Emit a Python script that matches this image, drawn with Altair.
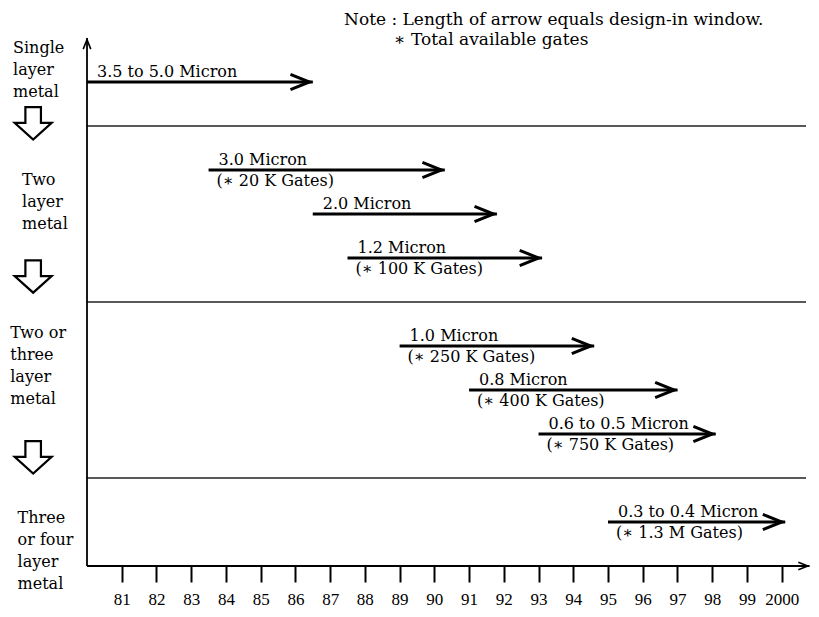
import json
import altair as alt
import pandas as pd

# ---------------- data ----------------
tech_labels = ["3.5 to 5.0 Micron", "3.0 Micron", "2.0 Micron", "1.2 Micron",
               "1.0 Micron", "0.8 Micron", "0.6 to 0.5 Micron", "0.3 to 0.4 Micron"]
gate_labels = ["", "(∗ 20 K Gates)", "", "(∗ 100 K Gates)",
               "(∗ 250 K Gates)", "(∗ 400 K Gates)", "(∗ 750 K Gates)", "(∗ 1.3 M Gates)"]
start_year = [80.0, 83.5, 86.5, 87.5, 89.0, 91.0, 93.0, 95.0]
end_year = [86.5, 90.3, 91.8, 93.1, 94.6, 97.0, 98.1, 100.1]
row = [11, 9, 8, 7, 5, 4, 3, 1]

metal_lines = [["Single", "layer", "metal"],
               ["Two", "layer", "metal"],
               ["Two or", "three", "layer", "metal"],
               ["Three", "or four", "layer", "metal"]]
metal_x = [77.87, 78.13, 77.79, 78.0]
metal_row = [11.77, 8.77, 5.30, 1.09]

down_arrow_x = [78.45, 78.45, 78.45]
down_arrow_row = [10.07, 6.59, 2.48]

separator_row = [10, 6, 2]

tick_years = [81, 82, 83, 84, 85, 86, 87, 88, 89, 90,
              91, 92, 93, 94, 95, 96, 97, 98, 99, 100]
tick_labels = ["81", "82", "83", "84", "85", "86", "87", "88", "89", "90",
               "91", "92", "93", "94", "95", "96", "97", "98", "99", "2000"]

note_lines = ["Note : Length of arrow equals design-in window.", "∗ Total available gates"]
note_x = [87.4, 88.84]
note_row = [12.29, 11.83]

x_domain = [80, 100.7]
y_domain = [0, 12]
axis_end = 100.8

# ---------------- tables ----------------
arrows = pd.DataFrame({"tech": tech_labels, "gates": gate_labels,
                       "start": start_year, "end": end_year, "row": row})
metal = pd.DataFrame({"txt": ["\n".join(l) for l in metal_lines],
                      "x": metal_x, "row": metal_row})
downs = pd.DataFrame({"x": down_arrow_x, "row": down_arrow_row})
seps = pd.DataFrame({"row": separator_row, "x0": [x_domain[0]] * 3, "x1": [x_domain[1]] * 3})
axes_lines = pd.DataFrame({"x0": [x_domain[0], x_domain[0]], "x1": [x_domain[0], axis_end],
                           "y0": [y_domain[0], y_domain[0]], "y1": [y_domain[1], y_domain[0]]})
axes_heads = pd.DataFrame({"x": [x_domain[0], axis_end], "y": [y_domain[1], y_domain[0]],
                           "angle": [270, 0]})
notes = pd.DataFrame({"txt": note_lines, "x": note_x, "row": note_row})

FONT = "DejaVu Serif"
xs = alt.Scale(domain=x_domain, nice=False, zero=False)
ys = alt.Scale(domain=y_domain, nice=False, zero=False)
label_expr = json.dumps(tick_labels) + "[datum.value - 81]"
x_axis = alt.Axis(values=tick_years, labelExpr=label_expr, domain=False, grid=False,
                  tickSize=16, tickWidth=2, tickColor="black", labelColor="black",
                  labelFont="Liberation Serif", labelFontSize=17, labelPadding=9,
                  title=None, labelOverlap=False, labelFlush=False)


def X(f):
    return alt.X(f, type="quantitative", scale=xs, axis=x_axis)


def Y(f):
    return alt.Y(f, type="quantitative", scale=ys, axis=None)


CHEVRON = "M -2.35 -0.8 L -0.35 0 L -2.35 0.8"
BLOCK_DOWN = "M -0.42 -0.85 L 0.42 -0.85 L 0.42 0 L 1 0 L 0 0.9 L -1 0 L -0.42 0 Z"

sep_layer = alt.Chart(seps).mark_rule(color="#222", strokeWidth=1.5).encode(
    x=X("x0"), x2="x1", y=Y("row"))

axis_layer = alt.Chart(axes_lines).mark_rule(color="black", strokeWidth=1.8).encode(
    x=X("x0"), x2="x1", y=Y("y0"), y2="y1")

axis_head_layer = alt.Chart(axes_heads).mark_point(
    shape=CHEVRON, filled=False, color="black", strokeWidth=1.6, size=90, opacity=1
).encode(x=X("x"), y=Y("y"), angle=alt.Angle("angle:Q", scale=None))

shaft_layer = alt.Chart(arrows).mark_rule(color="black", strokeWidth=3).encode(
    x=X("start"), x2="end", y=Y("row"))

head_layer = alt.Chart(arrows).mark_point(
    shape=CHEVRON, filled=False, color="black", strokeWidth=3, size=361, opacity=1
).encode(x=X("end"), y=Y("row"))

top_text = alt.Chart(arrows).mark_text(
    align="left", baseline="alphabetic", dx=10, dy=-5, font=FONT, fontSize=16, color="black"
).encode(x=X("start"), y=Y("row"), text="tech:N")

bottom_text = alt.Chart(arrows).mark_text(
    align="left", baseline="alphabetic", dx=8, dy=16, font=FONT, fontSize=16, color="black"
).encode(x=X("start"), y=Y("row"), text="gates:N")

metal_text = alt.Chart(metal).mark_text(
    align="left", baseline="middle", lineBreak="\n", lineHeight=22,
    font=FONT, fontSize=16, color="black"
).encode(x=X("x"), y=Y("row"), text="txt:N")

down_layer = alt.Chart(downs).mark_point(
    shape=BLOCK_DOWN, filled=False, color="black", strokeWidth=2.2, size=1369, opacity=1
).encode(x=X("x"), y=Y("row"))

note_text = alt.Chart(notes).mark_text(
    align="left", baseline="alphabetic", font=FONT, fontSize=17, color="black"
).encode(x=X("x"), y=Y("row"), text="txt:N")

chart = alt.layer(
    sep_layer, axis_layer, axis_head_layer, shaft_layer, head_layer,
    top_text, bottom_text, metal_text, down_layer, note_text
).properties(
    width=719, height=528,
    padding={"left": 79, "top": 30, "right": 5, "bottom": 43},
    autosize=alt.AutoSizeParams(type="none"),
    background="white",
).configure_view(stroke=None)

chart.save("out.html", embed_options={"renderer": "svg", "actions": False})
